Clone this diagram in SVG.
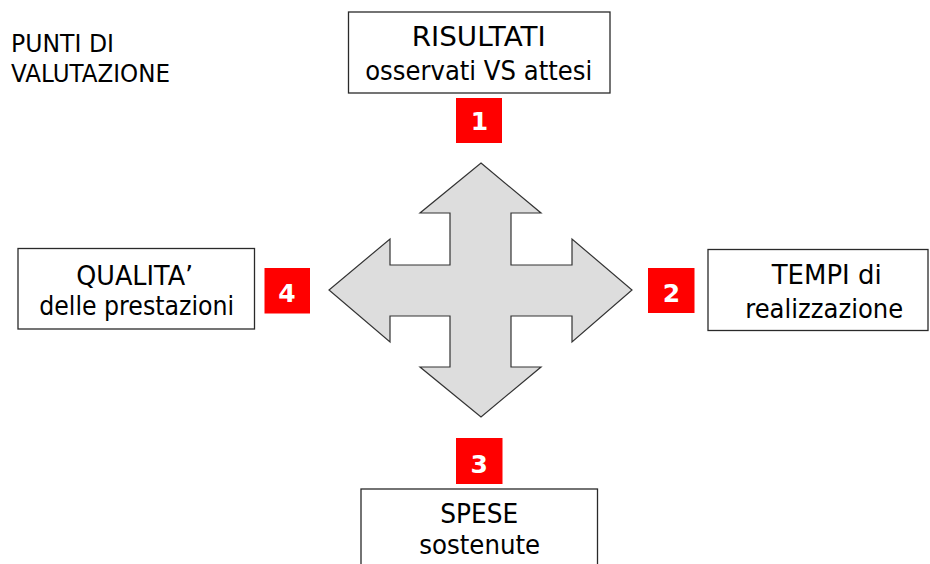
<svg xmlns="http://www.w3.org/2000/svg" width="930" height="564" viewBox="0 0 930 564">
<style>
.box{fill:#fff;stroke:#2a2a2a;stroke-width:1.3}
.t{font-family:"DejaVu Sans","Liberation Sans",sans-serif;font-size:26px;fill:#000;text-anchor:middle}
.h{font-family:"DejaVu Sans","Liberation Sans",sans-serif;font-size:24px;fill:#000}
.badge{fill:#ff0000}
.n{font-family:"DejaVu Sans","Liberation Sans",sans-serif;font-size:25px;font-weight:bold;fill:#fff;text-anchor:middle}
.arrow{fill:#dddddd;stroke:#333;stroke-width:1.2;stroke-linejoin:miter}
</style>
<rect width="930" height="564" fill="#fff"/>
<g id="title">
<text class="h" x="11" y="52" textLength="103" lengthAdjust="spacingAndGlyphs">PUNTI DI</text>
<text class="h" x="11" y="82" textLength="159" lengthAdjust="spacingAndGlyphs">VALUTAZIONE</text>
</g>
<g id="connectors">
<polygon class="arrow" points="481,163 541,213 511,213 511,265 572,265 572,239 632,290 572,342 572,316 511,316 511,367 541,367 481,417 420,367 450,367 450,316 390,316 390,342 329,290 390,239 390,265 450,265 450,213 420,213"/>
</g>
<g id="node1">
<rect class="box" x="348.5" y="12" width="261.5" height="81"/>
<text class="t" x="478.7" y="46" textLength="134" lengthAdjust="spacingAndGlyphs">RISULTATI</text>
<text class="t" x="478.7" y="79.5" textLength="227" lengthAdjust="spacingAndGlyphs">osservati VS attesi</text>
<rect class="badge" x="456" y="98" width="46" height="45"/>
<text class="n" x="479.5" y="129.5">1</text>
</g>
<g id="node2">
<rect class="box" x="708" y="249.5" width="220" height="81"/>
<text class="t" x="826.7" y="283.5" textLength="110" lengthAdjust="spacingAndGlyphs">TEMPI di</text>
<text class="t" x="824.2" y="317.5" textLength="158" lengthAdjust="spacingAndGlyphs">realizzazione</text>
<rect class="badge" x="648" y="268" width="46.5" height="45"/>
<text class="n" x="671.5" y="302">2</text>
</g>
<g id="node3">
<rect class="box" x="361" y="489" width="236.5" height="90"/>
<text class="t" x="479.2" y="523" textLength="78" lengthAdjust="spacingAndGlyphs">SPESE</text>
<text class="t" x="479.7" y="554" textLength="121" lengthAdjust="spacingAndGlyphs">sostenute</text>
<rect class="badge" x="456" y="438" width="46.5" height="46"/>
<text class="n" x="479.2" y="472.5">3</text>
</g>
<g id="node4">
<rect class="box" x="18" y="248.5" width="236.5" height="80.5"/>
<text class="t" x="134.7" y="284.5" textLength="117" lengthAdjust="spacingAndGlyphs">QUALITA’</text>
<text class="t" x="136.7" y="315" textLength="195" lengthAdjust="spacingAndGlyphs">delle prestazioni</text>
<rect class="badge" x="264.5" y="268" width="45.5" height="45.5"/>
<text class="n" x="287" y="302">4</text>
</g>
</svg>
